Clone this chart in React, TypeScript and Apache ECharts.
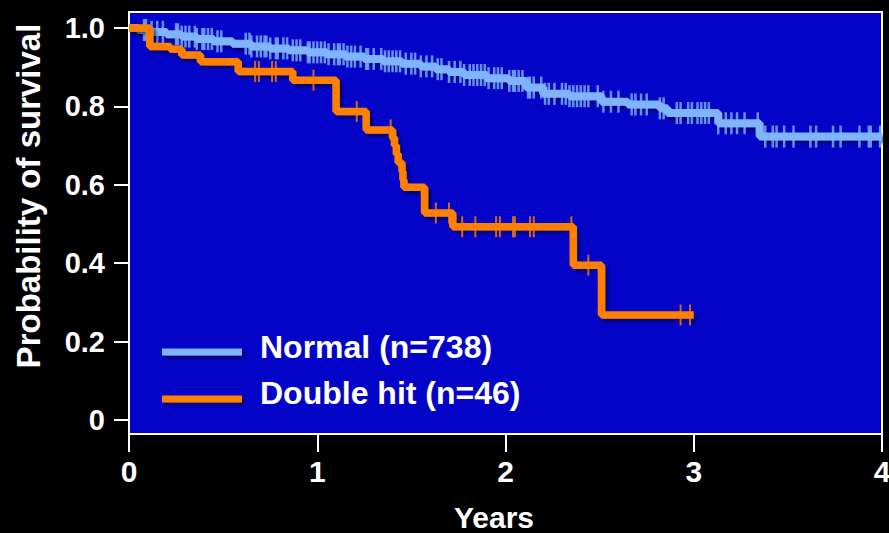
import React, { useEffect, useRef } from "react";
import * as echarts from "echarts";

// Kaplan–Meier step data (time in years, survival probability)
const normalTimes = [0, 0.05, 0.12, 0.2, 0.28, 0.36, 0.45, 0.55, 0.65, 0.75, 0.85, 0.95, 1.05, 1.15, 1.25, 1.35, 1.45, 1.55, 1.63, 1.7, 1.78, 1.9, 2.02, 2.11, 2.2, 2.34, 2.51, 2.65, 2.82, 2.86, 3.13, 3.35, 4.0];
const normalSurv = [1.0, 0.995, 0.99, 0.984, 0.978, 0.972, 0.966, 0.96, 0.953, 0.948, 0.943, 0.938, 0.933, 0.927, 0.921, 0.915, 0.909, 0.902, 0.895, 0.888, 0.88, 0.872, 0.865, 0.848, 0.832, 0.826, 0.812, 0.805, 0.795, 0.783, 0.757, 0.723, 0.723];
const normalCensor = [0.08, 0.09, 0.12, 0.15, 0.18, 0.25, 0.26, 0.28, 0.3, 0.32, 0.35, 0.36, 0.39, 0.4, 0.42, 0.44, 0.47, 0.49, 0.62, 0.64, 0.65, 0.68, 0.7, 0.72, 0.73, 0.75, 0.78, 0.79, 0.82, 0.84, 0.87, 0.89, 0.91, 0.95, 0.96, 0.98, 1.0, 1.02, 1.04, 1.06, 1.09, 1.11, 1.12, 1.14, 1.16, 1.18, 1.2, 1.23, 1.26, 1.27, 1.3, 1.34, 1.36, 1.38, 1.4, 1.42, 1.44, 1.47, 1.5, 1.52, 1.55, 1.58, 1.61, 1.64, 1.66, 1.7, 1.73, 1.76, 1.78, 1.81, 1.83, 1.85, 1.87, 1.89, 1.91, 1.94, 1.96, 1.98, 2.02, 2.04, 2.05, 2.07, 2.09, 2.12, 2.13, 2.15, 2.19, 2.21, 2.23, 2.26, 2.3, 2.32, 2.34, 2.36, 2.38, 2.4, 2.42, 2.44, 2.49, 2.52, 2.56, 2.6, 2.67, 2.69, 2.72, 2.75, 2.82, 2.84, 2.91, 2.93, 2.97, 2.99, 3.02, 3.04, 3.06, 3.08, 3.13, 3.17, 3.2, 3.23, 3.27, 3.34, 3.38, 3.42, 3.44, 3.48, 3.53, 3.62, 3.65, 3.74, 3.78, 3.88, 3.93, 3.94, 3.99];

const doubleTimes = [0, 0.11, 0.22, 0.28, 0.38, 0.58, 0.87, 1.1, 1.26, 1.4, 1.41, 1.42, 1.43, 1.45, 1.455, 1.46, 1.57, 1.72, 2.36, 2.51, 3.0];
const doubleSurv = [1.0, 0.953, 0.946, 0.931, 0.914, 0.889, 0.867, 0.787, 0.74, 0.72, 0.7, 0.678, 0.656, 0.634, 0.612, 0.594, 0.528, 0.493, 0.395, 0.268, 0.268];
const doubleCensor = [0.67, 0.69, 0.76, 0.78, 0.98, 1.21, 1.39, 1.63, 1.7, 1.77, 1.84, 1.95, 1.97, 2.04, 2.05, 2.13, 2.15, 2.35, 2.44, 2.93, 2.98];

const yTicks = [0, 0.2, 0.4, 0.6, 0.8, 1.0];
const seriesNames = ["Normal (n=738)", "Double hit (n=46)"];

const NORMAL_COLOR = "#80B4FF";
const DOUBLE_COLOR = "#FF8000";
const FONT = "'Liberation Sans', Arial, Helvetica, sans-serif";

function survAt(times: number[], surv: number[], t: number): number {
  let v = surv[0];
  for (let i = 0; i < times.length; i++) {
    if (times[i] <= t) v = surv[i];
  }
  return v;
}

export default function App() {
  const ref = useRef<HTMLDivElement>(null);
  useEffect(() => {
    document.body.style.margin = "0";
    document.body.style.background = "#000";
    const chart = echarts.init(ref.current!, null, { renderer: "svg" });
    const shadow = {
      shadowColor: "rgba(0,0,40,0.55)",
      shadowBlur: 3,
      shadowOffsetX: 3,
      shadowOffsetY: 3,
    };
    const legendColors = [NORMAL_COLOR, DOUBLE_COLOR];
    const legendRowY = [352, 399];
    const legendTextY = [347, 393];
    const legendGraphics: any[] = [];
    seriesNames.forEach((name, i) => {
      legendGraphics.push({
        type: "rect",
        left: 162,
        top: legendRowY[i] - 3.5,
        shape: { x: 0, y: 0, width: 80, height: 7 },
        style: { fill: legendColors[i], ...shadow },
        z: 10,
      });
      legendGraphics.push({
        type: "text",
        x: 260,
        y: legendTextY[i],
        style: {
          text: name,
          fill: "#fff",
          font: `bold 32px ${FONT}`,
          textVerticalAlign: "middle",
          verticalAlign: "middle",
        },
        z: 10,
      });
    });
    chart.setOption({
      animation: false,
      backgroundColor: "#000",
      textStyle: { fontFamily: FONT },
      grid: {
        left: 129,
        right: 7,
        top: 12,
        bottom: 99,
        show: true,
        outerBoundsMode: "none",
        containLabel: false,
        backgroundColor: "#0404C8",
        borderColor: "#fff",
        borderWidth: 2,
      },
      graphic: legendGraphics,
      xAxis: {
        type: "value",
        min: 0,
        max: 4,
        interval: 1,
        name: "Years",
        nameLocation: "middle",
        nameGap: 68,
        nameTextStyle: {
          color: "#fff",
          fontSize: 30,
          fontWeight: "bold",
          fontFamily: FONT,
          padding: [0, 23, 0, 0],
        },
        axisLine: { show: true, onZero: false, lineStyle: { color: "#fff", width: 2 } },
        axisTick: { show: true, inside: false, length: 18, lineStyle: { color: "#fff", width: 2 } },
        axisLabel: {
          color: "#fff",
          fontSize: 30,
          fontWeight: "bold",
          fontFamily: FONT,
          margin: 22,
        },
        splitLine: { show: false },
      },
      yAxis: {
        type: "value",
        min: -0.0357,
        max: 1.0408,
        name: "Probability of survival",
        nameLocation: "middle",
        nameGap: 84,
        nameTextStyle: {
          color: "#fff",
          fontSize: 33,
          fontWeight: "bold",
          fontFamily: FONT,
          padding: [0, 0, 0, 54],
        },
        axisLine: { show: true, onZero: false, lineStyle: { color: "#fff", width: 2 } },
        axisTick: {
          show: true,
          inside: false,
          length: 15,
          customValues: yTicks,
          lineStyle: { color: "#fff", width: 2 },
        },
        axisLabel: {
          color: "#fff",
          fontSize: 29,
          fontWeight: "bold",
          fontFamily: FONT,
          margin: 24,
          customValues: yTicks,
          formatter: (v: number) => (Math.abs(v) < 1e-9 ? "0" : v.toFixed(1)),
        },
        splitLine: { show: false },
      },
      series: [
        {
          name: seriesNames[0],
          type: "line",
          step: "end",
          showSymbol: false,
          symbol: "none",
          z: 2,
          color: NORMAL_COLOR,
          lineStyle: { color: NORMAL_COLOR, width: 8, ...shadow },
          data: normalTimes.map((t, i) => [t, normalSurv[i]]),
        },
        {
          name: "Normal censored",
          type: "scatter",
          symbol: "rect",
          symbolSize: [2.5, 22],
          z: 3,
          itemStyle: { color: NORMAL_COLOR },
          data: normalCensor.map((t) => [t, survAt(normalTimes, normalSurv, t)]),
        },
        {
          name: seriesNames[1],
          type: "line",
          step: "end",
          showSymbol: false,
          symbol: "none",
          z: 4,
          color: DOUBLE_COLOR,
          lineStyle: { color: DOUBLE_COLOR, width: 7.5, ...shadow },
          data: doubleTimes.map((t, i) => [t, doubleSurv[i]]),
        },
        {
          name: "Double hit censored",
          type: "scatter",
          symbol: "rect",
          symbolSize: [2, 21],
          z: 5,
          itemStyle: { color: DOUBLE_COLOR },
          data: doubleCensor.map((t) => [t, survAt(doubleTimes, doubleSurv, t)]),
        },
      ],
    });
    return () => chart.dispose();
  }, []);
  return (
    <div
      ref={ref}
      style={{ position: "fixed", left: 0, top: 0, width: 889, height: 533, background: "#000" }}
    />
  );
}
